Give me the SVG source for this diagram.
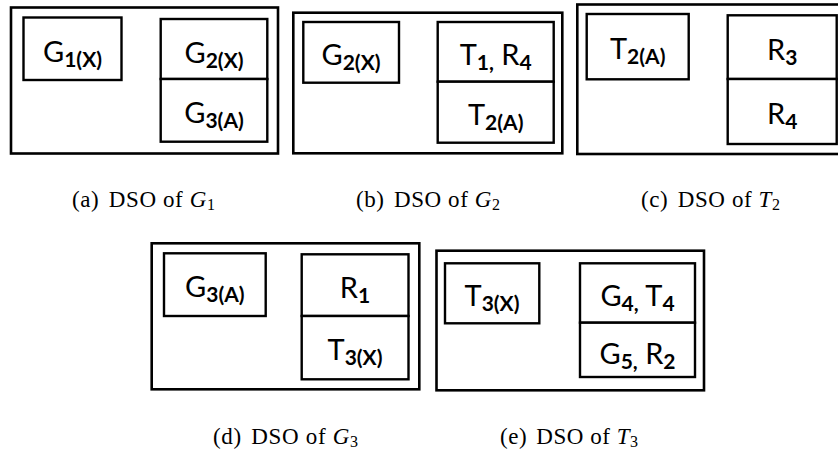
<svg xmlns="http://www.w3.org/2000/svg" width="838" height="452" viewBox="0 0 838 452">
<style>
.outer{fill:#fff;stroke:#000;stroke-width:2.6}
.box{fill:#fff;stroke:#000;stroke-width:2.4}
.lbl{font-family:Lato,"Open Sans",sans-serif;font-size:29px;fill:#000;text-anchor:middle}
.sub{font-size:21px;font-weight:bold}
.cap{font-family:"Liberation Serif","DejaVu Serif",serif;font-size:23px;fill:#000;text-anchor:middle}
.it{font-style:italic}
.cs{font-size:16px}
</style>
<rect width="838" height="452" fill="#fff"/>
<g id="panel-a">
<rect class="outer" x="11" y="7.5" width="267" height="146"/>
<g id="a-g1"><rect class="box" x="23.5" y="17.5" width="98" height="62.5"/>
<text class="lbl" x="72.5" y="61.5">G<tspan class="sub" dy="5">1(X)</tspan></text></g>
<g id="a-g2"><rect class="box" x="160.7" y="19" width="106.6" height="60"/>
<text class="lbl" x="214" y="63">G<tspan class="sub" dy="5">2(X)</tspan></text></g>
<g id="a-g3"><rect class="box" x="160.7" y="79" width="106.6" height="62.7"/>
<text class="lbl" x="214" y="123">G<tspan class="sub" dy="5">3(A)</tspan></text></g>
</g>
<g id="panel-b">
<rect class="outer" x="293.3" y="12.7" width="269" height="140.6"/>
<g id="b-g2"><rect class="box" x="303.3" y="22" width="95.7" height="60.7"/>
<text class="lbl" x="351" y="65">G<tspan class="sub" dy="5">2(X)</tspan></text></g>
<g id="b-t1r4"><rect class="box" x="437.7" y="22" width="116" height="59.7"/>
<text class="lbl" x="495.7" y="64.5">T<tspan class="sub" dy="5">1,</tspan><tspan dy="-5"> R</tspan><tspan class="sub" dy="5">4</tspan></text></g>
<g id="b-t2"><rect class="box" x="437.7" y="81.7" width="116" height="61"/>
<text class="lbl" x="495.7" y="124.5">T<tspan class="sub" dy="5">2(A)</tspan></text></g>
</g>
<g id="panel-c">
<rect class="outer" x="577.3" y="4.5" width="280" height="149.5"/>
<g id="c-t2"><rect class="box" x="586.7" y="14" width="102" height="65.3"/>
<text class="lbl" x="637.7" y="59">T<tspan class="sub" dy="5">2(A)</tspan></text></g>
<g id="c-r3"><rect class="box" x="727.7" y="15.3" width="109" height="63.7"/>
<text class="lbl" x="782.2" y="60">R<tspan class="sub" dy="5">3</tspan></text></g>
<g id="c-r4"><rect class="box" x="727.7" y="79" width="109" height="65"/>
<text class="lbl" x="782.2" y="123.5">R<tspan class="sub" dy="5">4</tspan></text></g>
</g>
<g id="panel-d">
<rect class="outer" x="151.7" y="243.3" width="267.6" height="146"/>
<g id="d-g3"><rect class="box" x="164" y="253.3" width="101.7" height="62.7"/>
<text class="lbl" x="214.8" y="297">G<tspan class="sub" dy="5">3(A)</tspan></text></g>
<g id="d-r1"><rect class="box" x="301.7" y="254.3" width="106.8" height="61.7"/>
<text class="lbl" x="355" y="298">R<tspan class="sub" dy="5">1</tspan></text></g>
<g id="d-t3"><rect class="box" x="301.7" y="316" width="106.8" height="63.3"/>
<text class="lbl" x="355" y="360">T<tspan class="sub" dy="5">3(X)</tspan></text></g>
</g>
<g id="panel-e">
<rect class="outer" x="436.5" y="250.7" width="267.5" height="139.6"/>
<g id="e-t3"><rect class="box" x="445" y="263.3" width="94.3" height="60"/>
<text class="lbl" x="492" y="306">T<tspan class="sub" dy="5">3(X)</tspan></text></g>
<g id="e-g4t4"><rect class="box" x="580" y="263.3" width="115" height="59.4"/>
<text class="lbl" x="637.5" y="306">G<tspan class="sub" dy="5">4,</tspan><tspan dy="-5"> T</tspan><tspan class="sub" dy="5">4</tspan></text></g>
<g id="e-g5r2"><rect class="box" x="580" y="322.7" width="115" height="54.3"/>
<text class="lbl" x="637.5" y="364">G<tspan class="sub" dy="5">5,</tspan><tspan dy="-5"> R</tspan><tspan class="sub" dy="5">2</tspan></text></g>
</g>
<g id="captions">
<text class="cap" x="143.5" y="207" textLength="143" lengthAdjust="spacing">(a) <tspan dx="3">DSO of </tspan><tspan class="it">G</tspan><tspan class="cs" dy="3">1</tspan></text>
<text class="cap" x="428" y="207" textLength="144" lengthAdjust="spacing">(b) <tspan dx="3">DSO of </tspan><tspan class="it">G</tspan><tspan class="cs" dy="3">2</tspan></text>
<text class="cap" x="710.5" y="207" textLength="139" lengthAdjust="spacing">(c) <tspan dx="3">DSO of </tspan><tspan class="it">T</tspan><tspan class="cs" dy="3">2</tspan></text>
<text class="cap" x="285.5" y="444" textLength="145" lengthAdjust="spacing">(d) <tspan dx="3">DSO of </tspan><tspan class="it">G</tspan><tspan class="cs" dy="3">3</tspan></text>
<text class="cap" x="569" y="444" textLength="138" lengthAdjust="spacing">(e) <tspan dx="3">DSO of </tspan><tspan class="it">T</tspan><tspan class="cs" dy="3">3</tspan></text>
</g>
</svg>
